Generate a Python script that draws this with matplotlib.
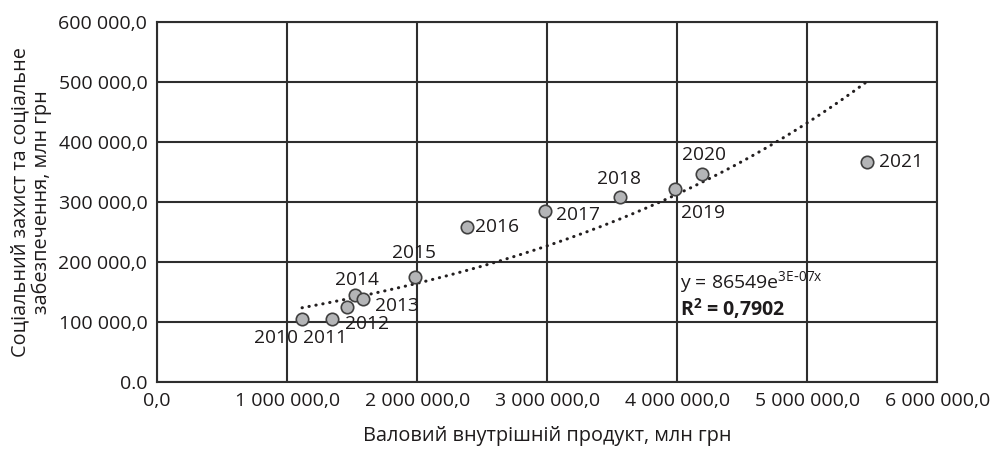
import numpy as np
from matplotlib import pyplot as plt
from matplotlib.ticker import FuncFormatter

plt.rcParams['font.family'] = ['Open Sans', 'DejaVu Sans']

# ВВП та видатки на соціальний захист, млн грн (оцінка з графіка)
years = ["2010", "2011", "2012", "2014", "2013", "2015", "2016",
         "2017", "2018", "2019", "2020", "2021"]
gdp = [1115000, 1344000, 1459000, 1523000, 1587000, 1985000, 2387000,
       2982000, 3560000, 3979000, 4190000, 5459000]
social = [104500, 105000, 125500, 145000, 137800, 175500, 257800,
          285500, 308900, 321700, 347000, 367000]

# зсув підписів від точки, пікселі
label_dx = [-26, -7, 20, 2, 33, -1, 30, 33, -1, 28, 2, 34]
label_dy = [-19, -19, -17, 15, -7, 24, 0, -4, 18, -24, 19, 0]

x_ticks = [0, 1e6, 2e6, 3e6, 4e6, 5e6, 6e6]
y_ticks = [0, 1e5, 2e5, 3e5, 4e5, 5e5, 6e5]

text_color = "#1e1b1c"


def fmt_num(v, pos=None):
    return f"{v:,.1f}".replace(",", " ").replace(".", ",")


def fmt_y(v, pos=None):
    if v == 0:
        return "0.0"
    return fmt_num(v)


fig = plt.figure(figsize=(9.94, 4.51), dpi=100)
ax = fig.add_axes([0.158, 0.153, 0.785, 0.798])

grid_color = "#2e2e2e"
ax.set_xlim(0, 6e6)
ax.set_ylim(0, 6e5)
ax.set_xticks(x_ticks)
ax.set_yticks(y_ticks)
ax.xaxis.set_major_formatter(FuncFormatter(fmt_num))
ax.yaxis.set_major_formatter(FuncFormatter(fmt_y))
ax.tick_params(length=0, labelsize=14, pad=7, colors=text_color)
ax.grid(True, color=grid_color, linewidth=1.5)
for sp in ax.spines.values():
    sp.set_color(grid_color)
    sp.set_linewidth(1.5)
ax.set_axisbelow(True)

# експоненційний тренд
gx = np.array(gdp, dtype=float)
gy = np.array(social, dtype=float)
b, ln_a = np.polyfit(gx, np.log(gy), 1)
tx = np.linspace(gx.min(), gx.max(), 200)
ax.plot(tx, np.exp(ln_a) * np.exp(b * tx), color="#231f20", linewidth=2.2,
        linestyle=(0, (0.1, 2.2)), dash_capstyle="round", zorder=2)

ax.scatter(gdp, social, s=80, facecolor="#b4b5b7", edgecolor="#404040",
           linewidth=1.2, zorder=3)

for yr, x, y, dx, dy in zip(years, gdp, social, label_dx, label_dy):
    ax.annotate(yr, (x, y), xytext=(dx, dy), textcoords="offset pixels",
                ha="center", va="center", fontsize=13.8, color=text_color, zorder=4)

ax.text(4.02e6, 1.65e5, "y = 86549e$^{\\mathregular{3E\\text{-}07x}}$", fontsize=14,
        color=text_color, ha="left", va="center")
ax.text(4.02e6, 1.23e5, "R$^{\\mathregular{2}}$ = 0,7902", fontsize=14,
        fontweight="bold", color=text_color, ha="left", va="center")

ax.set_xlabel("Валовий внутрішній продукт, млн грн", fontsize=14.3,
              color=text_color, labelpad=12)
ax.set_ylabel("Соціальний захист та соціальне\nзабезпечення, млн грн",
              fontsize=14.3, color=text_color, labelpad=5, linespacing=1.05)

fig.savefig("out.png", dpi=100)
